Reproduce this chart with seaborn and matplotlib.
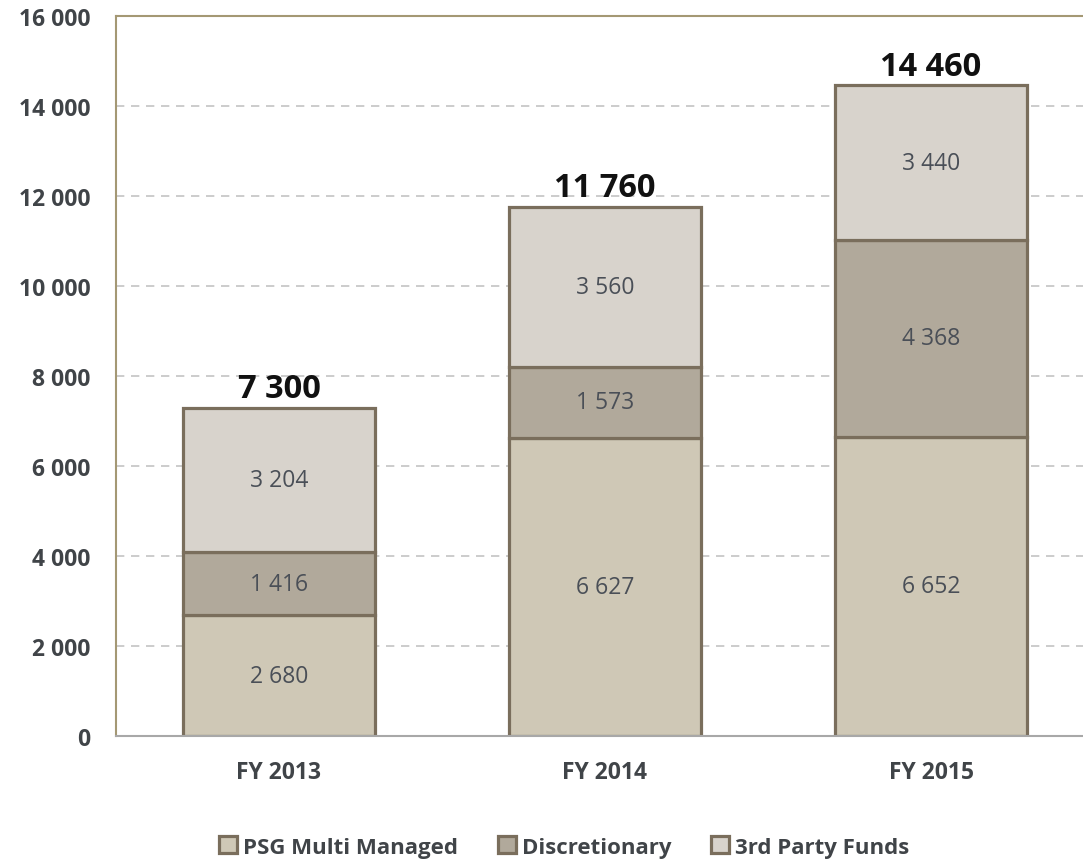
import pandas as pd
import matplotlib.pyplot as plt
import seaborn as sns

# dati
years = ['FY 2013', 'FY 2014', 'FY 2015']
psg = [2680, 6627, 6652]
discretionary = [1416, 1573, 4368]
third_party = [3204, 3560, 3440]
totals = [7300, 11760, 14460]
series_names = ['PSG Multi Managed', 'Discretionary', '3rd Party Funds']
colors = ['#cfc8b6', '#b1a99b', '#d8d3cc']
edge = '#7a6e5c'

df = pd.DataFrame({'year': years, 'PSG': psg, 'Disc': discretionary, '3rd': third_party})

sns.set_style('white')
plt.rcParams['font.family'] = ['Open Sans', 'DejaVu Sans']

fig = plt.figure(figsize=(10.83, 8.62), dpi=100)
ax = fig.add_axes([116 / 1083, 125 / 862, 978 / 1083, 720 / 862])

# barre impilate
bottom = [0, 0, 0]
for col, name, c in zip(['PSG', 'Disc', '3rd'], series_names, colors):
    sns.barplot(data=df, x='year', y=col, bottom=bottom, color=c, edgecolor=edge,
                linewidth=2.3, width=0.59, ax=ax, label=name, saturation=1)
    for i, v in enumerate(df[col]):
        ax.text(i, bottom[i] + v / 2, f'{v:,}'.replace(',', ' '), ha='center', va='center',
                fontsize=16.5, color='#4a4f57')
    bottom = [b + v for b, v in zip(bottom, df[col])]

# totali sopra le barre
for i, t in enumerate(totals):
    ax.text(i, t + 240, f'{t:,}'.replace(',', ' '), ha='center', va='baseline',
            fontsize=23.5, fontweight='bold', color='#111111')

ax.set_xlim(-0.5, 2.5)
ax.set_ylim(0, 16000)
ax.set_yticks(range(0, 16001, 2000))
ax.set_yticklabels([f'{v:,}'.replace(',', ' ') for v in range(0, 16001, 2000)],
                   fontsize=16.5, fontweight='bold', color='#404448')
ax.set_xticks(range(3))
ax.set_xticklabels(years, fontsize=16.5, fontweight='bold', color='#404448')
ax.set_xticks([-0.5, 0.5, 1.5, 2.5], minor=True)
ax.tick_params(axis='x', which='major', length=0, pad=17)
ax.tick_params(axis='x', which='minor', length=8, color='#a8a8a8', direction='out')
ax.tick_params(axis='y', length=0, pad=18.5)
ax.set_xlabel('')
ax.set_ylabel('')

for y in range(2000, 16000, 2000):
    ax.axhline(y, color='#c4c4c4', linestyle=(0, (5, 4)), linewidth=1.2, zorder=0)

ax.spines['top'].set_color('#a49874')
ax.spines['left'].set_color('#a49874')
ax.spines['bottom'].set_color('#a8a8a8')
ax.spines['right'].set_visible(False)
for s in ['top', 'left', 'bottom']:
    ax.spines[s].set_linewidth(1.5)

h, l = ax.get_legend_handles_labels()
if ax.legend_:
    ax.legend_.remove()
fig.legend(h, l, loc='center', bbox_to_anchor=(564 / 1083, 1 - 848 / 862), ncol=3, frameon=False,
           prop={'size': 16, 'weight': 'bold'}, handlelength=0.8, handleheight=0.8,
           handletextpad=0.27, columnspacing=1.8, labelcolor='#404448')

fig.savefig('out.png', dpi=100)
